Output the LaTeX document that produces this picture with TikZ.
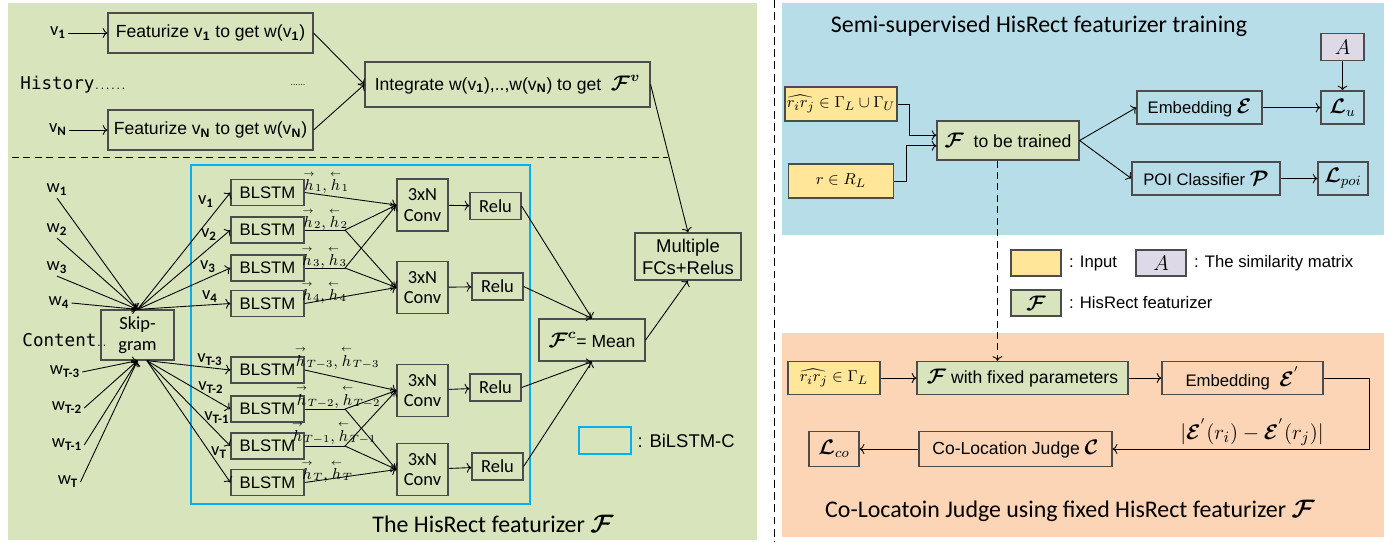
\documentclass[tikz,border=0pt]{standalone}
\usepackage{amsmath,amssymb,bm}
\usepackage{fontspec}
\setmainfont{Liberation Sans}
\newfontfamily\cfont{Carlito}
\newfontfamily\mfont{DejaVu Sans Mono}
\usetikzlibrary{arrows.meta}

\definecolor{leftbg}{HTML}{D8E4BC}
\definecolor{trainbg}{HTML}{B7DDE8}
\definecolor{judgebg}{HTML}{FBD5B5}
\definecolor{inputc}{HTML}{FFE699}
\definecolor{simc}{HTML}{DDD9E6}
\definecolor{featc}{HTML}{D7E4BD}
\definecolor{cyanc}{HTML}{00B0F0}

\newcommand{\calF}{\bm{\mathcal{F}}}
\newcommand{\hh}[1]{\overset{\scriptscriptstyle\rightarrow}{h}_{#1},\overset{\scriptscriptstyle\leftarrow}{h}_{#1}}
\newcommand{\sub}[1]{\textsubscript{\textbf{#1}}}

\begin{document}
\begin{tikzpicture}[x=0.02cm,y=-0.02cm,line width=0.5pt,
    every node/.style={font=\fontsize{9.5}{11}\selectfont},
    box/.style={draw=black!70,line width=0.7pt,inner sep=1pt,align=center},
    hbox/.style={box,font=\fontsize{10}{12}\selectfont},
    cbox/.style={box,font=\cfont\fontsize{10.5}{11.5}\selectfont},
    lstm/.style={box,minimum width=1.46cm,minimum height=0.52cm},
    conv/.style={cbox,minimum width=1.02cm,minimum height=1.04cm},
    relu/.style={cbox,minimum width=1.02cm,minimum height=0.54cm},
    wlbl/.style={inner sep=1pt,font=\cfont\fontsize{10.5}{12}\selectfont},
    hlbl/.style={inner sep=0pt,font=\fontsize{9}{10}\selectfont},
    ttl/.style={font=\cfont\fontsize{13.6}{15}\selectfont},
    mono/.style={font=\mfont\fontsize{10}{12}\selectfont}]
\useasboundingbox (0,0) rectangle (1395,542);

% panels
\fill[leftbg] (8,3) rectangle (757,540);
\fill[trainbg] (782,3) rectangle (1384,235);
\fill[judgebg] (782,333) rectangle (1384,537);
\draw[dash pattern=on 4.5pt off 2.5pt] (774,0) -- (774,542);
\draw[dash pattern=on 4pt off 2.5pt] (12,157) -- (668,157);

% history part
\node[wlbl] (v1) at (58,33) {v\sub{1}};
\node[wlbl] (vN) at (58,130) {v\sub{N}};
\node[hbox,minimum width=4.1cm,minimum height=0.8cm] (feat1) at (210.5,33) {Featurize v\sub{1} to get w(v\sub{1})};
\node[hbox,minimum width=4.1cm,minimum height=0.8cm] (featN) at (210.5,130) {Featurize v\sub{N} to get w(v\sub{N})};
\node[mono,anchor=west,inner sep=0pt] (hist) at (20,85) {History{\tiny......}};
\node[inner sep=0pt] (hdots) at (298,85) {\tiny......};
\node[hbox,minimum width=5.7cm,minimum height=0.9cm] (integ) at (507.5,84.5) {Integrate w(v\sub{1}),..,w(v\sub{N}) to get\ \ {\large$\calF^{\bm{v}}$}};
\draw[->] (v1) -- (feat1);
\draw[->] (vN) -- (featN);
\draw[->] (feat1.east) -- (integ.west);
\draw[->] (featN.east) -- (integ.west);

% content part
\draw[cyanc,line width=1.2pt] (191,165) rectangle (530,504);
\node[cbox,minimum width=1.46cm,minimum height=1cm,font=\cfont\fontsize{10.5}{12}\selectfont] (skip) at (137.5,335) {Skip-\\gram};
\node[mono,anchor=west,inner sep=0pt] (cont) at (22,340) {Content{\tiny..}};
\node[wlbl] (w1) at (57,190) {w\sub{1}};
\node[wlbl] (w2) at (57,230) {w\sub{2}};
\node[wlbl] (w3) at (57,268) {w\sub{3}};
\node[wlbl] (w4) at (59,303) {w\sub{4}};
\node[wlbl] (w5) at (65,372) {w\sub{T-3}};
\node[wlbl] (w6) at (67,408) {w\sub{T-2}};
\node[wlbl] (w7) at (67,445) {w\sub{T-1}};
\node[wlbl] (w8) at (68,482) {w\sub{T}};
\foreach \w in {w1,w2,w3} \draw[->] (\w.south) -- (skip.north);
\draw[->] (w4.east) -- (skip.north);
\foreach \w in {w5,w6,w7,w8} \draw[->] (\w.east) -- (skip.south);

\foreach \n/\y in {1/192.5,2/230,3/268,4/303.5,5/370,6/409,7/446,8/482.5}
  \node[lstm] (b\n) at (267.5,\y) {BLSTM};
\foreach \n in {1,...,4} \draw[->] (skip.north) -- (b\n.west);
\foreach \n in {5,...,8} \draw[->] (skip.-70) -- (b\n.west);
\node[wlbl] at (206,202) {v\sub{1}};
\node[wlbl] at (209,235) {v\sub{2}};
\node[wlbl] at (208,267) {v\sub{3}};
\node[wlbl] at (210,297) {v\sub{4}};
\node[wlbl] at (210,360) {v\sub{T-3}};
\node[wlbl] at (211,388) {v\sub{T-2}};
\node[wlbl] at (217,418) {v\sub{T-1}};
\node[wlbl] at (219,453) {v\sub{T}};

\node[hlbl] at (326,182) {$\hh{1}$};
\node[hlbl] at (325,219) {$\hh{2}$};
\node[hlbl] at (324,257) {$\hh{3}$};
\node[hlbl] at (324,292) {$\hh{4}$};
\node[hlbl] at (337,358) {$\hh{T-3}$};
\node[hlbl] at (338,397) {$\hh{T-2}$};
\node[hlbl] at (334,433) {$\hh{T-1}$};
\node[hlbl] at (327,471) {$\hh{T}$};

\node[conv] (c1) at (422.5,205) {3xN\\Conv};
\node[conv] (c2) at (422.5,287.5) {3xN\\Conv};
\node[conv] (c3) at (422.5,390.5) {3xN\\Conv};
\node[conv] (c4) at (422.5,469.5) {3xN\\Conv};
\node[relu] (r1) at (495.5,206) {Relu};
\node[relu] (r2) at (497.5,286.5) {Relu};
\node[relu] (r3) at (495.5,387.5) {Relu};
\node[relu] (r4) at (497.5,466.5) {Relu};
\foreach \n in {1,...,4} \draw[->] (c\n) -- (r\n);

\coordinate (s2) at (345,230);
\coordinate (s3) at (345,268);
\coordinate (s6) at (345,409);
\coordinate (s7) at (345,446);
\draw (b2.east) -- (s2); \draw (b3.east) -- (s3);
\draw (b6.east) -- (s6); \draw (b7.east) -- (s7);
\draw[->] (b1.east) -- (c1.west);
\draw[->] (s2) -- (c1.west);
\draw[->] (s3) -- (c1.west);
\draw[->] (s2) -- (c2.west);
\draw[->] (s3) -- (c2.west);
\draw[->] (b4.east) -- (c2.west);
\draw[->] (b5.east) -- (c3.west);
\draw[->] (s6) -- (c3.west);
\draw[->] (s7) -- (c3.west);
\draw[->] (s6) -- (c4.west);
\draw[->] (s7) -- (c4.west);
\draw[->] (b8.east) -- (c4.west);

\node[box,minimum width=2.12cm,minimum height=0.84cm,font=\fontsize{10}{12}\selectfont] (mean) at (592,340) {{\large$\calF^{\bm{c}}$}= Mean};
\node[box,minimum width=2.12cm,minimum height=0.94cm,font=\fontsize{10.5}{12.5}\selectfont] (multi) at (688,256.5) {Multiple\\FCs+Relus};
\draw[->] (r1.east) -- (mean.north);
\draw[->] (r2.east) -- (mean.north);
\draw[->] (r3.east) -- (mean.south);
\draw[->] (r4.east) -- (mean.south);
\draw[->] (mean.east) -- (multi.south);
\draw[->] (integ.east) -- (multi.north);

\node[draw=cyanc,line width=1.2pt,minimum width=1.04cm,minimum height=0.54cm] (lgc) at (605,440.5) {};
\node[anchor=west,inner sep=0pt,font=\fontsize{10.5}{12}\selectfont] at (lgc.east) {\ : BiLSTM-C};
\node[ttl] (ttlL) at (493,524) {The HisRect featurizer $\calF$};

% training
\node[ttl] (ttlT) at (1039,26) {Semi-supervised HisRect featurizer training};
\node[box,fill=inputc,minimum width=2.1cm,minimum height=0.68cm] (in1) at (841,104) {$\widehat{r_ir_j}\in\Gamma_L\cup\Gamma_U$};
\node[box,fill=inputc,minimum width=2.1cm,minimum height=0.68cm] (in2) at (841,181) {$r\in R_L$};
\node[box,fill=featc,minimum width=2.84cm,minimum height=0.78cm,font=\fontsize{10}{12}\selectfont] (ftrain) at (1008,140.5) {{\large$\calF$}\ \ to be trained};
\node[box,minimum width=2.5cm,minimum height=0.66cm] (emb) at (1199.5,107.5) {Embedding\ {\large$\bm{\mathcal{E}}$}};
\node[box,minimum width=2.96cm,minimum height=0.66cm] (poi) at (1206,178.5) {POI Classifier\ {\large$\bm{\mathcal{P}}$}};
\node[box,minimum width=0.86cm,minimum height=0.66cm] (lu) at (1342.5,107.5) {\large$\bm{\mathcal{L}}_u$};
\node[box,minimum width=1cm,minimum height=0.66cm] (lpoi) at (1343,178.5) {\large$\bm{\mathcal{L}}_{poi}$};
\node[box,fill=simc,minimum width=0.86cm,minimum height=0.54cm] (amat) at (1342.5,47) {\large$A$};
\draw[->] (in1.east) -- ++(12,0) |- ([yshift=3pt]ftrain.west);
\draw[->] (in2.east) -- ++(12,0) |- ([yshift=-3pt]ftrain.west);
\draw[->] (ftrain.east) -- (emb.west);
\draw[->] (ftrain.east) -- (poi.west);
\draw[->] (emb) -- (lu);
\draw[->] (poi) -- (lpoi);
\draw[->] (amat) -- (lu);

% legend
\node[box,fill=inputc,minimum width=1cm,minimum height=0.52cm] (lgin) at (1036,263) {};
\node[anchor=west,inner sep=0pt] at ([xshift=4pt]lgin.east) {: Input};
\node[box,fill=simc,minimum width=1cm,minimum height=0.52cm] (lga) at (1161,263) {\large$A$};
\node[anchor=west,inner sep=0pt] at ([xshift=4pt]lga.east) {: The similarity matrix};
\node[box,fill=featc,minimum width=1cm,minimum height=0.52cm] (lgf) at (1036,303) {\large$\calF$};
\node[anchor=west,inner sep=0pt] at ([xshift=4pt]lgf.east) {: HisRect featurizer};

% co-location judge
\node[box,fill=inputc,minimum width=1.84cm,minimum height=0.66cm] (in3) at (834,378) {$\widehat{r_ir_j}\in\Gamma_L$};
\node[box,fill=featc,minimum width=4.22cm,minimum height=0.66cm,font=\fontsize{10}{12}\selectfont] (ffix) at (1022.5,378) {{\large$\calF$}\ with fixed parameters};
\node[box,minimum width=3.22cm,minimum height=0.66cm] (emb2) at (1242.5,378) {Embedding\ \ {\large$\bm{\mathcal{E}}^{'}$}};
\node[box,minimum width=3.86cm,minimum height=0.7cm,font=\fontsize{10}{12}\selectfont] (colj) at (1015.5,449) {Co-Location Judge\ {\large$\bm{\mathcal{C}}$}};
\node[box,minimum width=1cm,minimum height=0.7cm] (lco) at (834,449) {\large$\bm{\mathcal{L}}_{co}$};
\node[font=\fontsize{12.5}{14}\selectfont] (dist) at (1252,432) {$|\bm{\mathcal{E}}^{'}(r_i)-\bm{\mathcal{E}}^{'}(r_j)|$};
\draw[->] (in3) -- (ffix);
\draw[->] (ffix) -- (emb2);
\draw[->] (emb2.east) -- ++(46,0) |- (colj.east);
\draw[->] (colj) -- (lco);
\draw[->,dash pattern=on 4pt off 2.5pt] ([xshift=-6pt]ftrain.south) -- ([xshift=-6pt]ftrain.south |- ffix.north);
\node[ttl] (ttlJ) at (1070,511) {Co-Locatoin Judge using fixed HisRect featurizer $\calF$};
\end{tikzpicture}
\end{document}
